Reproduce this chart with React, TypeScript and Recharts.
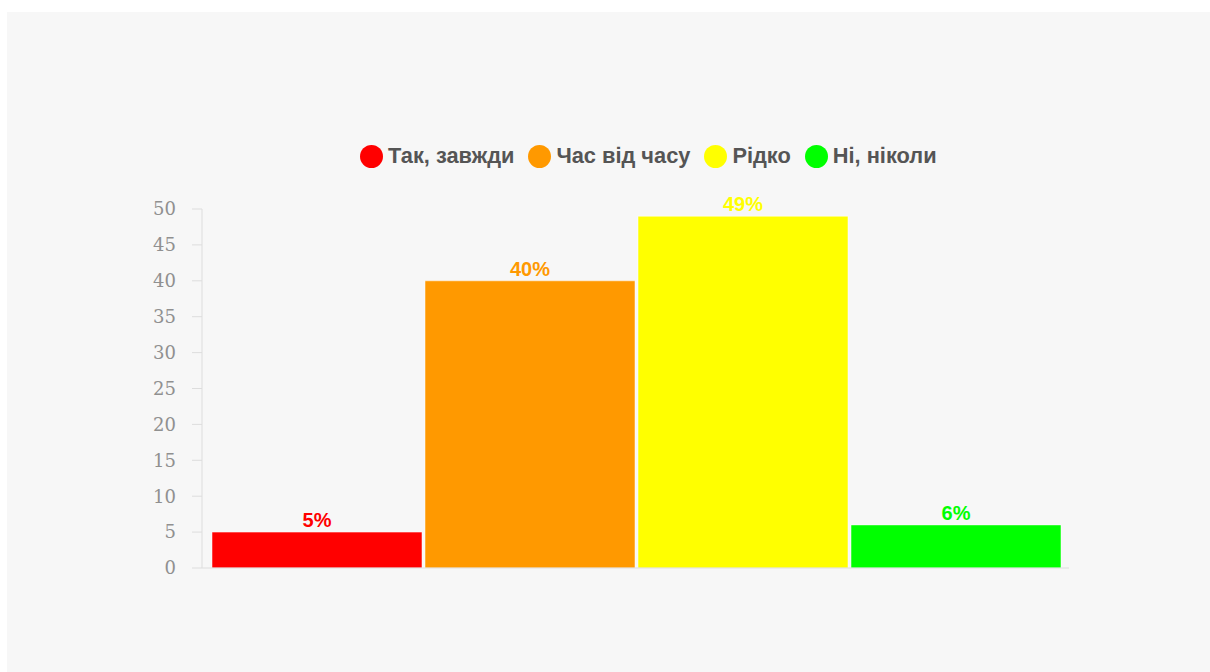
import { Bar, BarChart, LabelList, Legend, XAxis, YAxis } from "recharts";

// survey answers, one bar each
const answers = ["Так, завжди", "Час від часу", "Рідко", "Ні, ніколи"];
const shares = [5, 40, 49, 6];
const colors = ["#ff0000", "#ff9900", "#ffff00", "#00ff00"];
const yTicks = [0, 5, 10, 15, 20, 25, 30, 35, 40, 45, 50];

const keys = answers.map((_, i) => `a${i}`);
const row: Record<string, number | string> = { name: "" };
keys.forEach((k, i) => {
  row[k] = shares[i];
});
const data = [row];

const sans = "'Liberation Sans', Arial, sans-serif";

function LegendRow() {
  return (
    <div
      style={{
        display: "flex",
        alignItems: "center",
        fontFamily: sans,
        fontWeight: 700,
        fontSize: 21.8,
        lineHeight: "24px",
        color: "#555",
        whiteSpace: "nowrap",
      }}
    >
      {answers.map((a, i) => (
        <div key={a} style={{ display: "flex", alignItems: "center", marginRight: 14 }}>
          <span
            style={{
              display: "inline-block",
              width: 23,
              height: 23,
              borderRadius: "50%",
              background: colors[i],
              marginRight: 5,
            }}
          />
          {a}
        </div>
      ))}
    </div>
  );
}

export default function App() {
  return (
    <div
      style={{
        position: "absolute",
        left: 7,
        top: 12,
        width: 1203,
        height: 660,
        background: "#f7f7f7",
      }}
    >
      <BarChart
        width={1203}
        height={660}
        data={data}
        margin={{ top: 197, right: 141, bottom: 74, left: 0 }}
        barCategoryGap={10}
        barGap={3}
      >
        <XAxis dataKey="name" tick={false} tickLine={false} axisLine={{ stroke: "#dddddd" }} height={30} />
        <YAxis
          width={195}
          domain={[0, 50]}
          ticks={yTicks}
          interval={0}
          tickSize={10}
          tickMargin={16}
          axisLine={{ stroke: "#dddddd" }}
          tickLine={{ stroke: "#dddddd" }}
          tick={{ fill: "#909090", fontSize: 18, fontFamily: "'DejaVu Serif', serif" }}
        />
        <Legend
          verticalAlign="middle"
          content={<LegendRow />}
          wrapperStyle={{ top: 132, left: 353, width: "auto" }}
        />
        {keys.map((k, i) => (
          <Bar
            key={k}
            dataKey={k}
            name={answers[i]}
            fill={colors[i]}
            stroke="#ffffff"
            strokeOpacity={0.5}
            isAnimationActive={false}
          >
            <LabelList
              dataKey={k}
              position="top"
              offset={5}
              formatter={(v: any) => `${v}%`}
              style={{
                fill: colors[i],
                fontWeight: 700,
                fontSize: 20,
                fontFamily: sans,
              }}
            />
          </Bar>
        ))}
      </BarChart>
    </div>
  );
}
